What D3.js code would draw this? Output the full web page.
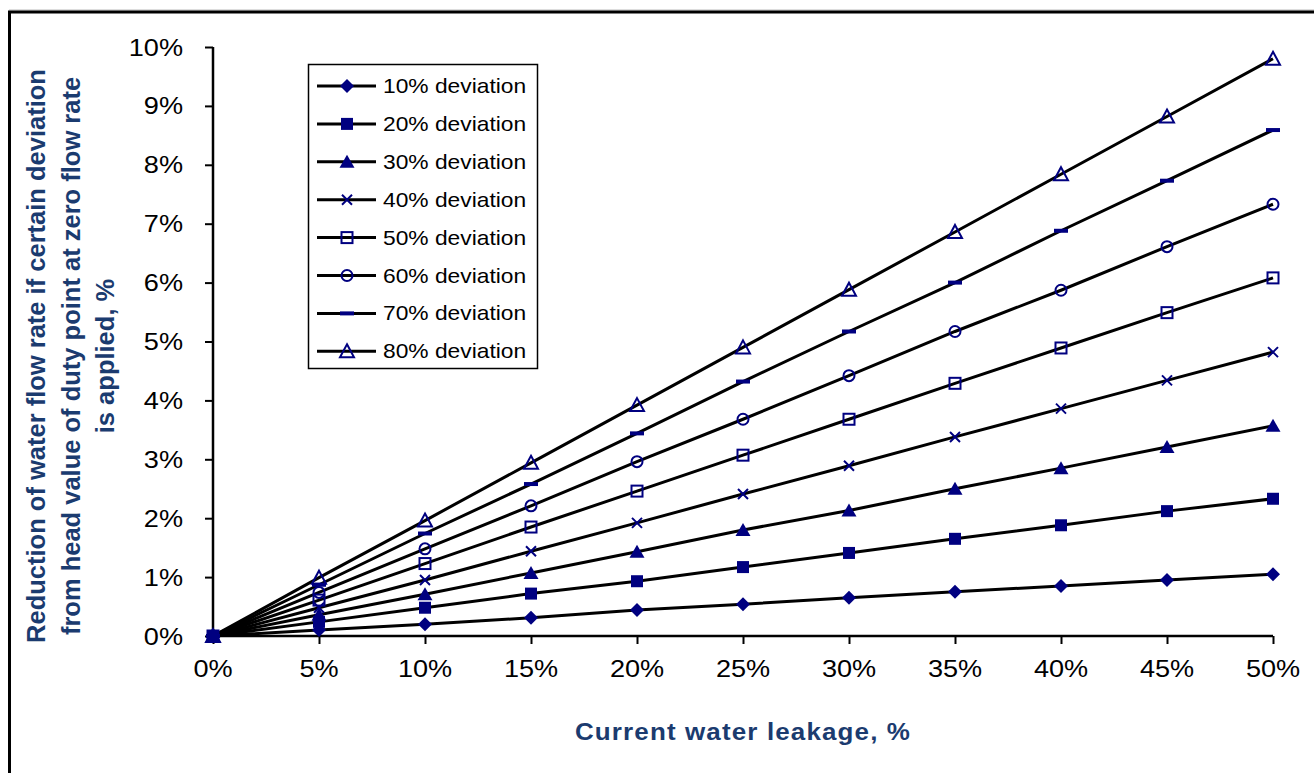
<!DOCTYPE html>
<html>
<head>
<meta charset="utf-8">
<script src="https://cdn.jsdelivr.net/npm/d3@7"></script>
<style>
  html, body { margin: 0; padding: 0; background: #fff; }
  svg { display: block; }
  text { font-family: Arial, "Liberation Sans", sans-serif; }
</style>
</head>
<body>
<script>
// Leakage values along the x axis (%)
const leakage = [0, 5, 10, 15, 20, 25, 30, 35, 40, 45, 50];
const xTickLabels = ["0%", "5%", "10%", "15%", "20%", "25%", "30%", "35%", "40%", "45%", "50%"];
const yTicks = [0, 1, 2, 3, 4, 5, 6, 7, 8, 9, 10];
const yTickLabels = ["0%", "1%", "2%", "3%", "4%", "5%", "6%", "7%", "8%", "9%", "10%"];

// Flow-rate reduction (%) for each deviation level
const seriesNames = ["10% deviation", "20% deviation", "30% deviation", "40% deviation",
                     "50% deviation", "60% deviation", "70% deviation", "80% deviation"];
const dev10 = [0, 0.10, 0.20, 0.31, 0.44, 0.54, 0.65, 0.75, 0.85, 0.95, 1.05];
const dev20 = [0, 0.24, 0.48, 0.72, 0.93, 1.17, 1.41, 1.65, 1.88, 2.12, 2.33];
const dev30 = [0, 0.36, 0.71, 1.07, 1.43, 1.80, 2.13, 2.50, 2.85, 3.21, 3.57];
const dev40 = [0, 0.48, 0.95, 1.44, 1.92, 2.41, 2.89, 3.38, 3.86, 4.34, 4.82];
const dev50 = [0, 0.61, 1.23, 1.85, 2.46, 3.07, 3.68, 4.29, 4.89, 5.49, 6.08];
const dev60 = [0, 0.74, 1.48, 2.21, 2.96, 3.68, 4.42, 5.17, 5.87, 6.61, 7.33];
const dev70 = [0, 0.87, 1.74, 2.58, 3.44, 4.32, 5.17, 6.00, 6.88, 7.73, 8.59];
const dev80 = [0, 0.99, 1.96, 2.94, 3.92, 4.90, 5.88, 6.86, 7.84, 8.82, 9.80];
const seriesValues = [dev10, dev20, dev30, dev40, dev50, dev60, dev70, dev80];
const markerKinds = ["diamond", "square", "triangle", "cross", "squareOpen", "circleOpen", "dash", "triangleOpen"];

const W = 1314, H = 773;
const navy = "#000080";
const titleBlue = "#1b3b6f";

const svg = d3.select("body").append("svg").attr("width", W).attr("height", H);

// outer frame
svg.append("line").attr("x1", 9).attr("x2", W).attr("y1", 10).attr("y2", 10)
  .attr("stroke", "#bbb").attr("stroke-width", 1);
svg.append("line").attr("x1", 8).attr("x2", W).attr("y1", 12).attr("y2", 12)
  .attr("stroke", "#000").attr("stroke-width", 3);
svg.append("line").attr("x1", 9.5).attr("x2", 9.5).attr("y1", 11).attr("y2", H)
  .attr("stroke", "#000").attr("stroke-width", 3);

const x = d3.scaleLinear().domain([0, 50]).range([213, 1273]);
const y = d3.scaleLinear().domain([0, 10]).range([636, 47]);

// helper: text with a horizontal glyph stretch around its anchor point
function stext(parent, px, py, str, size, anchor, sx, opts = {}) {
  const g = parent.append("g").attr("transform", `translate(${px},${py}) scale(${sx},1)`);
  const t = g.append("text").attr("x", 0).attr("y", 0)
    .attr("font-size", size).attr("text-anchor", anchor)
    .attr("fill", opts.fill || "#000")
    .attr("font-weight", opts.weight || "normal")
    .text(str);
  if (opts.spacing) t.attr("letter-spacing", opts.spacing);
  return t;
}

// axes
const axisG = svg.append("g");
const xAxis = d3.axisBottom(x).tickValues(leakage).tickSize(8).tickFormat(() => "");
const yAxis = d3.axisLeft(y).tickValues(yTicks).tickSize(8).tickFormat(() => "");
axisG.append("g").attr("transform", `translate(0,${y(0)})`).call(xAxis)
  .call(g => g.select(".domain").attr("stroke-width", 2.5).attr("d", `M${x(0)},0H${x(50)}`))
  .call(g => g.selectAll(".tick line").attr("stroke-width", 2));
axisG.append("g").attr("transform", `translate(${x(0)},0)`).call(yAxis)
  .call(g => g.select(".domain").attr("stroke-width", 2.5).attr("d", `M0,${y(10)}V${y(0)}`))
  .call(g => g.selectAll(".tick line").attr("stroke-width", 2));

// tick labels
leakage.forEach((v, i) => stext(svg, x(v), 677, xTickLabels[i], 24, "middle", 1.13));
yTicks.forEach((v, i) => stext(svg, 183, y(v) + 8.5, yTickLabels[i], 24, "end", 1.13));

// axis titles
stext(svg, 743, 740, "Current water leakage, %", 23, "middle", 1.13,
      { weight: "bold", fill: titleBlue, spacing: 1 });
const yTitle = ["Reduction of water flow rate if certain deviation",
                "from head value of duty point at zero flow rate",
                "is applied, %"];
yTitle.forEach((line, i) => {
  svg.append("g").attr("transform", `translate(${45 + i * 34.5},356) rotate(-90)`)
    .append("text").attr("text-anchor", "middle").attr("font-size", 25.5)
    .attr("font-weight", "bold").attr("fill", titleBlue).text(line);
});

// marker drawing
function drawMarker(g, kind) {
  switch (kind) {
    case "diamond":
      g.append("path").attr("d", "M0,-7L7,0L0,7L-7,0Z").attr("fill", navy); break;
    case "square":
      g.append("rect").attr("x", -6).attr("y", -6).attr("width", 12).attr("height", 12).attr("fill", navy); break;
    case "triangle":
      g.append("path").attr("d", "M0,-7L7.5,6L-7.5,6Z").attr("fill", navy); break;
    case "cross":
      g.append("path").attr("d", "M-5,-5L5,5M-5,5L5,-5").attr("stroke", navy).attr("stroke-width", 2); break;
    case "squareOpen":
      g.append("rect").attr("x", -5.5).attr("y", -5.5).attr("width", 11).attr("height", 11)
        .attr("fill", "none").attr("stroke", navy).attr("stroke-width", 2); break;
    case "circleOpen":
      g.append("circle").attr("r", 5.5).attr("fill", "none").attr("stroke", navy).attr("stroke-width", 2); break;
    case "dash":
      g.append("rect").attr("x", -7).attr("y", -2).attr("width", 14).attr("height", 4).attr("fill", navy); break;
    case "triangleOpen":
      g.append("path").attr("d", "M0,-7L7,6L-7,6Z").attr("fill", "none").attr("stroke", navy).attr("stroke-width", 2); break;
  }
}

// series lines
const line = d3.line().x((d, i) => x(leakage[i])).y(d => y(d));
const plot = svg.append("g");
seriesValues.forEach(vals => {
  plot.append("path").attr("d", line(vals)).attr("fill", "none")
    .attr("stroke", "#000").attr("stroke-width", 3);
});
// series markers
seriesValues.forEach((vals, s) => {
  vals.forEach((v, i) => {
    drawMarker(plot.append("g").attr("transform", `translate(${x(leakage[i])},${y(v)})`), markerKinds[s]);
  });
});

// legend
const legend = svg.append("g");
legend.append("rect").attr("x", 308.5).attr("y", 64.5).attr("width", 229).attr("height", 304)
  .attr("fill", "#fff").attr("stroke", "#000").attr("stroke-width", 1.5);
seriesNames.forEach((name, i) => {
  const ly = 86 + i * 37.9;
  legend.append("line").attr("x1", 317).attr("x2", 376).attr("y1", ly).attr("y2", ly)
    .attr("stroke", "#000").attr("stroke-width", 3);
  drawMarker(legend.append("g").attr("transform", `translate(347,${ly})`), markerKinds[i]);
  stext(legend, 383, ly + 7, name, 20, "start", 1.14);
});
</script>
</body>
</html>
